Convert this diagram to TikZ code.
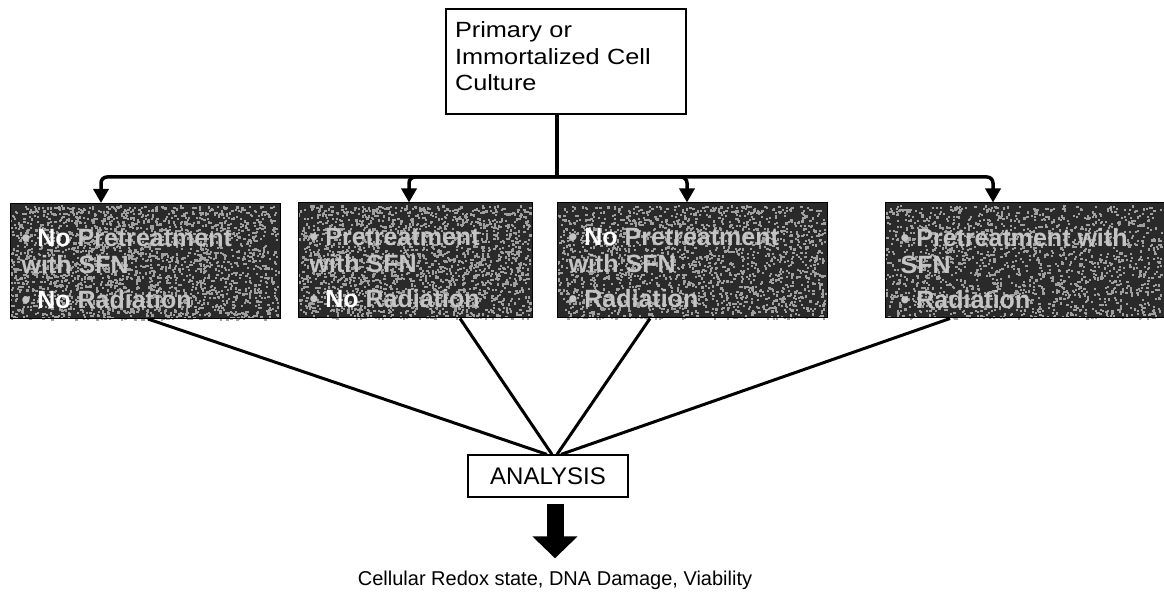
\documentclass[tikz,border=0pt]{standalone}
\usepackage{fontspec}
\setmainfont{Liberation Sans}
\newfontfamily\widefont[FakeStretch=1.15]{Liberation Sans}
\usetikzlibrary{arrows.meta,backgrounds}
\definecolor{slate}{HTML}{2A2A2A}
\definecolor{speck}{HTML}{A0A0A0}
\definecolor{dimtext}{HTML}{C4C4C4}
\tikzset{
  plainbox/.style={draw=black, line width=1.2pt, fill=white, inner sep=0pt},
  darkbox/.style={draw=black, line width=1pt, minimum height=115pt, inner sep=0pt},
  grouptext/.style={anchor=north west, inner sep=0pt, align=left, text=dimtext,
    font=\fontsize{25}{27}\selectfont\bfseries},
  feed/.style={line width=3.5pt, rounded corners=6pt,
    -{Triangle[length=14pt,width=15pt]}},
  merge/.style={line width=3pt},
  bigarrow/.style={line width=17pt, -{Triangle[length=22pt,width=44pt]}},
}
\newcommand\hi[1]{\textcolor{white}{#1}}
% dark grainy fill for the treatment boxes
\newcommand\speckle[5]{%
  \fill[slate] (#1,#2) rectangle (#3,#4);
  \foreach \k in {1,...,#5}{%
    \pgfmathsetmacro\gx{#1+rnd*(#3-#1-2.2)}%
    \pgfmathsetmacro\gy{#2+2.2+rnd*(#4-#2-2.2)}%
    \fill[speck] (\gx,\gy) rectangle ++(2.2,2.2);
  }}
\begin{document}
\begin{tikzpicture}[x=1pt,y=-1pt]
\pgfmathsetseed{7}
\useasboundingbox (0,0) rectangle (1164,593);

% source culture
\node[plainbox, minimum width=240pt, minimum height=105pt, text width=222pt,
      align=left, font=\widefont\fontsize{22}{26.5}\selectfont]
  (top) at (566,61.5) {Primary or\\Immortalized Cell\\Culture\rule[-10pt]{0pt}{0pt}};

% treatment groups
\node[darkbox, minimum width=270pt] (b1) at (145,261) {};
\node[darkbox, minimum width=234pt] (b2) at (415,260.5) {};
\node[darkbox, minimum width=270pt] (b3) at (692,260.5) {};
\node[darkbox, minimum width=279pt] (b4) at (1024.5,260.5) {};

\begin{pgfonlayer}{background}
  \speckle{10}{203}{280}{319}{2200}
  \speckle{298}{203}{532}{318}{1900}
  \speckle{557}{203}{827}{318}{1800}
  \speckle{885}{203}{1164}{318}{1600}
\end{pgfonlayer}

\node[grouptext] (t1) at ([xshift=12pt,yshift=-26pt]b1.north west)
  {\textbullet\ \hi{No} Pretreatment\\with SFN\\[8pt]\textbullet\ \hi{No} Radiation};
\node[grouptext] (t2) at ([xshift=12pt,yshift=-26pt]b2.north west)
  {\textbullet\ Pretreatment\\with SFN\\[8pt]\textbullet\ \hi{No} Radiation};
\node[grouptext] (t3) at ([xshift=12pt,yshift=-26pt]b3.north west)
  {\textbullet\ \hi{No} Pretreatment\\with SFN\\[8pt]\textbullet\ Radiation};
\node[grouptext] (t4) at ([xshift=16pt,yshift=-26pt]b4.north west)
  {\textbullet\ Pretreatment with\\SFN\\[8pt]\textbullet\ Radiation};

% analysis and outcome
\node[plainbox, minimum width=160pt, minimum height=42pt,
      font=\fontsize{24}{28}\selectfont] (an) at (548,476) {ANALYSIS};
\node[font=\fontsize{20}{24}\selectfont, inner sep=0pt, anchor=base]
  (res) at (555,585) {Cellular Redox state, DNA Damage, Viability};

% distribution bus
\coordinate (hub) at (557,177);
\draw[line width=3.5pt] (hub |- top.south) -- (hub);
\draw[feed] (hub) -| ([xshift=-44pt]b1.north);
\draw[feed] (hub) -| ([xshift=-6pt]b2.north);
\draw[feed] (hub) -| ([xshift=-5pt]b3.north);
\draw[feed] (hub) -| ([xshift=-31.5pt]b4.north);

% groups merge into analysis
\draw[merge] ([xshift=3pt]b1.south) -- ([xshift=-1pt]an.north);
\draw[merge] ([xshift=45pt]b2.south) -- ([xshift=4pt]an.north);
\draw[merge] ([xshift=-42pt]b3.south) -- ([xshift=9pt]an.north);
\draw[merge] ([xshift=-74.5pt]b4.south) -- ([xshift=13pt]an.north);

% result arrow
\draw[bigarrow, shorten >=12pt] ([yshift=-6pt]res.north |- an.south) -- (res.north);
\end{tikzpicture}
\end{document}
